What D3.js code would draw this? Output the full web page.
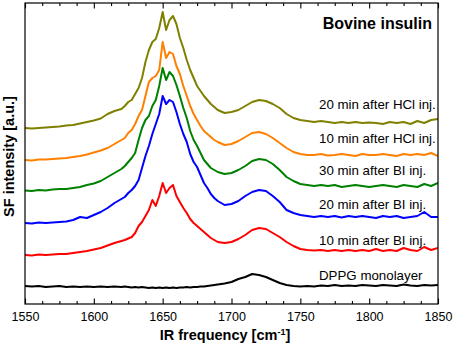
<!DOCTYPE html>
<html>
<head>
<meta charset="utf-8">
<script src="https://cdn.jsdelivr.net/npm/d3@7/dist/d3.min.js"></script>
<style>
  body { margin: 0; background: #fff; }
  svg { display: block; font-family: "Liberation Sans", Arial, sans-serif; }
</style>
</head>
<body>
<div id="chart"></div>
<script>
// IR frequency grid (cm^-1), finer around the amide I band
const freq = [1550, 1555, 1560, 1565, 1570, 1575, 1580, 1585, 1590, 1595, 1600, 1605, 1610, 1615,
  1620, 1622.5, 1625, 1627.5, 1630, 1632.5, 1635, 1637.5, 1640, 1642.5, 1645, 1647.5, 1650, 1652.5,
  1655, 1657.5, 1660, 1662.5, 1665, 1667.5, 1670, 1672.5, 1675, 1677.5, 1680, 1682.5, 1685, 1687.5,
  1690, 1695, 1700, 1705, 1710, 1715, 1720, 1725, 1730, 1735, 1740, 1745, 1750, 1755, 1760, 1765,
  1770, 1775, 1780, 1785, 1790, 1795, 1800, 1805, 1810, 1815, 1820, 1825, 1830, 1835, 1840, 1845, 1850];

// SF intensity (a.u., offset-stacked as in the figure)
const dppg = [1.8, 1.75, 1.8, 1.7, 1.75, 1.8, 1.7, 1.75, 1.7, 1.75, 1.7, 1.75, 1.7, 1.75,
  1.7, 1.75, 1.7, 1.65, 1.7, 1.65, 1.7, 1.65, 1.6, 1.65, 1.6, 1.65, 1.6, 1.65,
  1.6, 1.65, 1.6, 1.65, 1.65, 1.7, 1.65, 1.7, 1.7, 1.75, 1.75, 1.8, 1.85, 1.9,
  1.95, 2.05, 2.2, 2.5, 2.7, 3.0, 2.9, 2.7, 2.4, 2.1, 1.9, 1.8, 1.75, 1.8, 1.75, 1.85,
  1.8, 1.9, 1.8, 1.85, 1.8, 1.9, 1.85, 1.8, 1.9, 1.85, 1.8, 1.95, 1.85, 1.8, 1.9, 1.85, 1.9];

const bi10 = [4.9, 4.85, 4.95, 4.9, 4.95, 5.0, 5.0, 5.1, 5.2, 5.3, 5.45, 5.6, 5.85, 6.1,
  6.3, 6.4, 6.55, 6.7, 7.1, 7.8, 8.2, 8.8, 9.4, 10.4, 9.8, 10.8, 12.1, 11.1,
  11.6, 11.9, 10.8, 10.2, 9.6, 9.1, 8.5, 8.1, 7.8, 7.5, 7.2, 6.9, 6.6, 6.4,
  6.2, 6.1, 6.2, 6.5, 6.9, 7.4, 7.6, 7.5, 7.1, 6.7, 6.2, 5.8, 5.5, 5.4, 5.35, 5.4,
  5.3, 5.4, 5.3, 5.4, 5.3, 5.4, 5.3, 5.5, 5.3, 5.4, 5.3, 5.6, 5.4, 5.3, 5.7, 5.4, 5.6];

const bi20 = [8.1, 8.05, 8.15, 8.1, 8.15, 8.2, 8.25, 8.4, 8.7, 8.6, 8.9, 9.2, 9.6, 10.1,
  10.5, 10.7, 11.1, 11.4, 11.8, 12.4, 13.6, 14.8, 15.8, 17.0, 18.0, 19.0, 20.8, 20.0,
  20.4, 20.2, 19.2, 18.0, 17.0, 16.2, 15.0, 14.2, 13.7, 12.9, 12.1, 11.6, 11.0, 10.6,
  10.3, 9.9, 10.0, 10.3, 10.8, 11.2, 11.4, 11.3, 10.8, 10.2, 9.4, 9.1, 8.9, 8.8, 8.7, 8.8,
  8.7, 8.8, 8.65, 8.8, 8.7, 8.8, 8.7, 8.6, 8.8, 8.7, 8.8, 8.6, 8.7, 8.8, 9.2, 8.7, 8.7];

const bi30 = [11.35, 11.3, 11.4, 11.35, 11.45, 11.5, 11.5, 11.6, 11.7, 11.9, 12.05, 12.3, 12.7, 13.1,
  13.5, 13.8, 14.2, 14.6, 15.1, 16.4, 17.6, 18.4, 18.8, 19.8, 20.4, 21.8, 23.6, 22.4,
  23.2, 22.8, 21.9, 20.8, 19.6, 18.6, 17.3, 16.4, 15.8, 15.1, 14.4, 14.0, 13.6, 13.4,
  13.2, 13.0, 13.1, 13.4, 13.8, 14.3, 14.5, 14.4, 14.0, 13.4, 12.7, 12.3, 12.0, 11.9, 11.8, 11.9,
  11.8, 11.9, 11.7, 11.8, 11.9, 11.8, 11.7, 11.8, 11.9, 11.8, 11.7, 11.9, 11.8, 11.7, 12.0, 11.8, 12.1];

const hcl10 = [14.4, 14.35, 14.45, 14.45, 14.5, 14.55, 14.6, 14.7, 14.8, 14.95, 15.15, 15.35, 15.6, 16.0,
  16.4, 16.6, 17.1, 17.4, 18.0, 18.8, 19.4, 20.8, 22.2, 22.6, 22.8, 23.4, 26.2, 24.6,
  25.2, 25.0, 23.8, 23.0, 21.8, 20.8, 19.8, 19.0, 18.4, 17.8, 17.3, 17.0, 16.7, 16.4,
  16.2, 15.9, 16.0, 16.3, 16.7, 17.1, 17.2, 17.0, 16.6, 16.1, 15.6, 15.2, 15.0, 14.9, 14.9, 15.0,
  14.85, 14.9, 15.0, 14.9, 14.8, 15.0, 14.9, 14.9, 15.0, 14.9, 14.8, 15.0, 14.9, 15.0, 14.9, 15.1, 14.8];

const hcl20 = [17.6, 17.55, 17.6, 17.65, 17.7, 17.75, 17.85, 17.9, 18.05, 18.2, 18.35, 18.55, 19.0, 19.3,
  19.5, 19.8, 20.2, 20.4, 21.0, 21.6, 22.6, 24.2, 25.4, 26.2, 26.5, 27.6, 29.2, 27.4,
  28.4, 28.8, 28.0, 26.6, 25.6, 24.4, 23.4, 22.6, 21.8, 21.3, 20.8, 20.4, 20.0, 19.7,
  19.4, 19.1, 19.2, 19.4, 19.8, 20.2, 20.4, 20.3, 20.0, 19.6, 19.0, 18.6, 18.4, 18.3, 18.2, 18.3,
  18.2, 18.1, 18.2, 18.1, 18.2, 18.1, 18.15, 18.1, 18.0, 18.2, 18.1, 18.2, 18.0, 18.3, 18.1, 18.4, 18.5];

const seriesData = [dppg, bi10, bi20, bi30, hcl10, hcl20];
const seriesLabels = ["DPPG monolayer", "10 min after BI inj.", "20 min after BI inj.",
  "30 min after BI inj.", "10 min after HCl inj.", "20 min after HCl inj."];
// label baselines, in intensity units
const labelLevels = [2.37, 5.95, 9.5, 12.9, 16.15, 19.5];
const seriesColors = ["#000000", "#ff0000", "#0000ff", "#008000", "#ff8000", "#808000"];

const majorTicks = [1550, 1600, 1650, 1700, 1750, 1800, 1850];
const minorTicks = d3.range(1550, 1850.1, 12.5).filter(v => v % 50 !== 0);

const W = 454, H = 346;
const m = { left: 25, right: 16, top: 3, bottom: 42 };

const svg = d3.select("#chart").append("svg")
  .attr("width", W).attr("height", H);

const x = d3.scaleLinear().domain([1550, 1850]).range([m.left, W - m.right]);
const y = d3.scaleLinear().domain([0, 30.1]).range([H - m.bottom, m.top]);

svg.append("clipPath").attr("id", "plot-clip")
  .append("rect")
  .attr("x", m.left).attr("y", m.top)
  .attr("width", W - m.left - m.right).attr("height", H - m.top - m.bottom);

// spectra
const line = d3.line()
  .x(d => x(d[0]))
  .y(d => y(d[1]));

const g = svg.append("g").attr("clip-path", "url(#plot-clip)");
seriesData.forEach((vals, i) => {
  g.append("path")
    .datum(freq.map((f, k) => [f, vals[k]]))
    .attr("d", line)
    .attr("fill", "none")
    .attr("stroke", seriesColors[i])
    .attr("stroke-width", 2)
    .attr("stroke-linejoin", "round");
});

// frame
svg.append("rect")
  .attr("x", m.left).attr("y", m.top)
  .attr("width", W - m.left - m.right).attr("height", H - m.top - m.bottom)
  .attr("fill", "none").attr("stroke", "#000").attr("stroke-width", 1.2);

// ticks (inward), bottom with labels
const bottomAxis = svg.append("g").attr("transform", `translate(0,${H - m.bottom})`)
  .call(d3.axisBottom(x).tickValues(majorTicks).tickSizeInner(-5.5).tickSizeOuter(0).tickPadding(8)
    .tickFormat(d3.format("d")));
bottomAxis.append("g")
  .call(d3.axisBottom(x).tickValues(minorTicks).tickSize(-3).tickFormat(""));

const topAxis = svg.append("g").attr("transform", `translate(0,${m.top})`)
  .call(d3.axisTop(x).tickValues(majorTicks).tickSizeInner(-5.5).tickSizeOuter(0).tickFormat(""));
topAxis.append("g")
  .call(d3.axisTop(x).tickValues(minorTicks).tickSize(-3).tickFormat(""));

svg.selectAll(".domain").remove();
svg.selectAll(".tick line").attr("stroke", "#000").attr("stroke-width", 1.1);
bottomAxis.selectAll(".tick text")
  .attr("fill", "#000")
  .style("font-size", "12.5px")
  .style("font-family", "'Liberation Sans', Arial, sans-serif");

// axis titles
const xTitle = svg.append("text")
  .attr("x", 225).attr("y", 340)
  .attr("text-anchor", "middle")
  .style("font-size", "14.5px").style("font-weight", "bold");
xTitle.append("tspan").text("IR frequency [cm");
xTitle.append("tspan").attr("dy", -5).style("font-size", "9px").text("-1");
xTitle.append("tspan").attr("dy", 5).text("]");

svg.append("text")
  .attr("transform", `translate(13.5,${(m.top + H - m.bottom) / 2 + 3}) rotate(-90)`)
  .attr("text-anchor", "middle")
  .style("font-size", "14.5px").style("font-weight", "bold")
  .text("SF intensity [a.u.]");

// series labels
seriesLabels.forEach((t, i) => {
  svg.append("text")
    .attr("x", 319).attr("y", y(labelLevels[i]))
    .style("font-size", "13.3px")
    .attr("fill", "#000")
    .text(t);
});

svg.append("text")
  .attr("x", 432).attr("y", 28.5)
  .attr("text-anchor", "end")
  .style("font-size", "16px").style("font-weight", "bold")
  .text("Bovine insulin");
</script>
</body>
</html>
